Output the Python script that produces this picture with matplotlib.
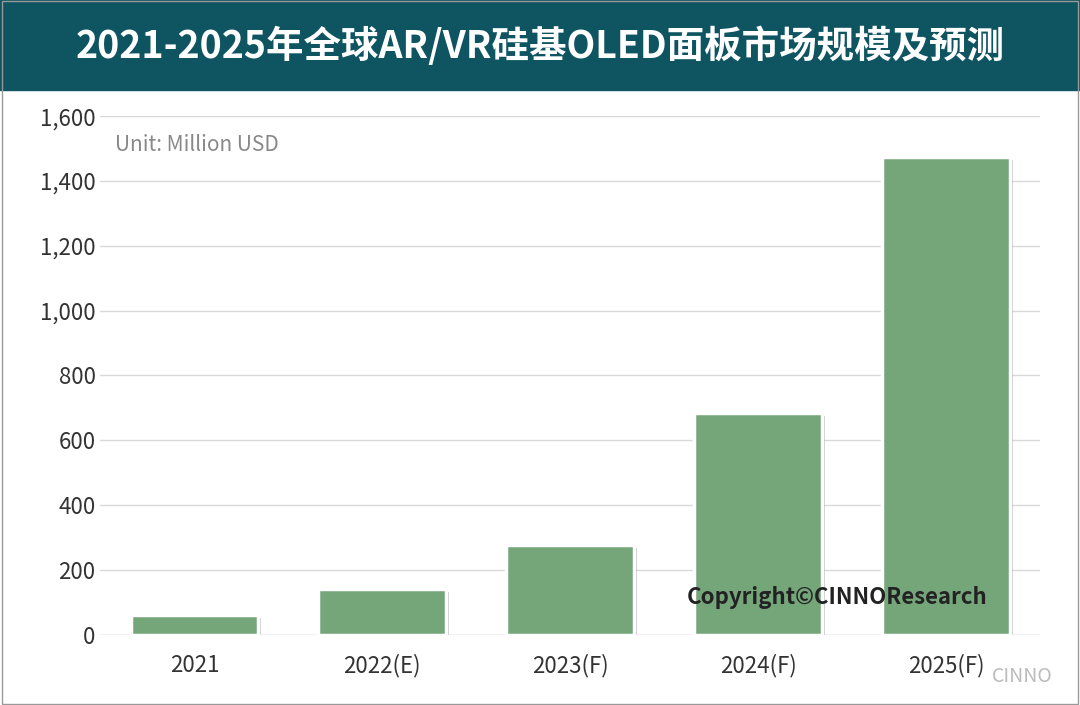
import matplotlib.pyplot as plt
import matplotlib.patheffects as pe

plt.rcParams['font.family'] = ['Noto Sans CJK SC', 'DejaVu Sans']

years = ["2021", "2022(E)", "2023(F)", "2024(F)", "2025(F)"]
values = [59, 139, 275, 684, 1474]
title = "2021-2025年全球AR/VR硅基OLED面板市场规模及预测"

fig = plt.figure(figsize=(10.8, 7.05), dpi=100)
fig.patches.append(plt.Rectangle((0, 0.872), 1, 0.128, transform=fig.transFigure,
                                 color="#0e5461", zorder=0))
fig.patches.append(plt.Rectangle((0.002, 0.002), 0.996, 0.996, transform=fig.transFigure,
                                 fill=False, edgecolor="#999999", lw=1))
fig.text(0.5, 0.935, title, color="white", fontsize=27, fontweight="bold",
         ha="center", va="center")

ax = fig.add_axes([0.093, 0.1, 0.87, 0.735])
bars = ax.bar(years, values, width=0.68, color="#75a67a", edgecolor="white", linewidth=2.5,
              zorder=3)
for b in bars:
    b.set_path_effects([pe.SimplePatchShadow(offset=(2, -2), shadow_rgbFace="#777777", alpha=0.4),
                        pe.Normal()])

ax.set_ylim(0, 1600)
ax.set_yticks(range(0, 1601, 200))
ax.set_yticklabels([f"{v:,}" for v in range(0, 1601, 200)])
ax.set_xlim(-0.5, 4.5)
ax.yaxis.grid(True, color="#d9d9d9", lw=1, zorder=0)
ax.tick_params(axis="both", length=0, labelsize=16, colors="#333333")
ax.tick_params(axis="x", pad=14)
for s in ax.spines.values():
    s.set_visible(False)
ax.axhline(0, color="#d9d9d9", lw=1)

ax.text(-0.42, 1510, "Unit: Million USD", fontsize=15, color="#888888", va="center")
ax.text(2.62, 115, "Copyright©CINNOResearch", fontsize=16, fontweight="bold",
        color="#222222", va="center")
fig.text(0.918, 0.04, "CINNO", fontsize=14, color="#bbbbbb", va="center")

fig.savefig("out.png", dpi=100)
